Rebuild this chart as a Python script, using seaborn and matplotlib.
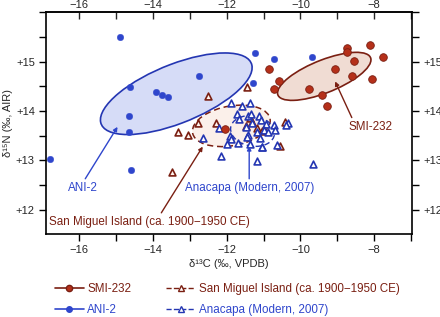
import numpy as np
import pandas as pd
import matplotlib
matplotlib.use('Agg')
import matplotlib.pyplot as plt
from matplotlib.patches import Ellipse
from matplotlib.lines import Line2D
from matplotlib.ticker import MultipleLocator, FuncFormatter
import seaborn as sns

# SMI-232 (archaeological, red circles)
smi_c = [-8.75, -8.74, -8.11, -7.77, -8.56, -9.06, -8.60, -8.05,
         -10.86, -10.59, -10.73, -9.77, -9.41, -9.29, -12.04]
smi_n = [15.28, 15.20, 15.34, 15.10, 15.01, 14.85, 14.72, 14.64,
         14.85, 14.60, 14.45, 14.45, 14.33, 14.10, 13.63]

# ANI-2 (archaeological, blue circles)
ani_c = [-14.89, -14.63, -13.91, -13.75, -13.59, -14.66, -14.66, -12.74,
         -16.79, -14.59, -11.23, -10.73, -11.28, -9.69]
ani_n = [15.51, 14.49, 14.39, 14.33, 14.28, 13.89, 13.58, 14.72,
         13.03, 12.81, 15.18, 15.05, 14.56, 15.09]

# San Miguel Island, ca. 1900-1950 CE (open red triangles)
sm_c = [-12.50, -11.44, -12.78, -13.33, -13.05, -12.29, -11.37, -11.49,
        -11.19, -10.55, -10.42, -13.47, -11.32, -11.05]
sm_n = [14.31, 14.49, 13.75, 13.57, 13.52, 13.75, 13.85, 13.70,
        13.65, 13.30, 13.77, 12.77, 13.77, 13.60]

# Anacapa, modern 2007 (open blue triangles)
an_c = [-11.88, -11.59, -11.38, -11.71, -11.66, -11.43, -11.35, -11.12,
        -11.07, -10.93, -10.73, -11.32, -11.47, -11.18, -10.99, -10.87,
        -10.69, -11.41, -11.09, -12.63, -11.91, -11.88, -11.68, -12.00,
        -11.37, -11.05, -12.15, -11.18, -10.63, -10.33, -10.40, -12.20,
        -9.67, -11.03, -11.46]
an_n = [14.16, 14.10, 14.16, 13.94, 13.83, 13.90, 13.94, 13.89,
        13.82, 13.74, 13.72, 13.75, 13.68, 13.58, 13.62, 13.57,
        13.62, 13.52, 13.45, 13.45, 13.50, 13.44, 13.35, 13.33,
        13.33, 13.28, 13.08, 12.98, 13.31, 13.75, 13.72, 13.66,
        12.93, 13.27, 13.47]

x_ticks = [-16, -14, -12, -10, -8]
y_ticks = [12, 13, 14, 15]

RED = '#B5301A'
RED_DARK = '#7A1F12'
BLUE = '#2F46CC'
BLUE_DARK = '#2436B2'


def std_ellipse(x, y, **kw):
    # small-sample corrected standard ellipse (SEAc)
    x = np.asarray(x); y = np.asarray(y)
    n = len(x)
    cov = np.cov(x, y)
    vals, vecs = np.linalg.eigh(cov)
    order = vals.argsort()[::-1]
    vals, vecs = vals[order], vecs[:, order]
    k = np.sqrt((n - 1) / (n - 2))
    w, h = 2 * k * np.sqrt(vals)
    ang = np.degrees(np.arctan2(vecs[1, 0], vecs[0, 0]))
    return Ellipse((x.mean(), y.mean()), w, h, angle=ang, **kw)


sns.set_style('ticks')
plt.rcParams['font.family'] = ['Liberation Sans', 'DejaVu Sans']
plt.rcParams['font.size'] = 8

fig = plt.figure(figsize=(4.4, 3.17), dpi=100)
ax = fig.add_axes([0.1045, 0.262, 0.8315, 0.699])

ax.add_patch(std_ellipse(ani_c, ani_n, facecolor='#D6DCF7', edgecolor=BLUE_DARK, lw=1.2, zorder=1))
ax.add_patch(std_ellipse(smi_c, smi_n, facecolor='#F0DCD3', edgecolor=RED_DARK, lw=1.2, zorder=1))
ax.add_patch(std_ellipse(sm_c, sm_n, facecolor='#FBF0EA', edgecolor=RED_DARK, lw=1.1, ls=(0, (4, 2.5)), zorder=1))
ax.add_patch(std_ellipse(an_c, an_n, facecolor='none', edgecolor=BLUE_DARK, lw=1.0, ls=(0, (4, 2.5)), zorder=2))

sns.scatterplot(x=sm_c, y=sm_n, marker='^', s=24, facecolor='#FFF4EE', edgecolor=RED_DARK, linewidth=1.2, ax=ax, zorder=3)
sns.scatterplot(x=an_c, y=an_n, marker='^', s=24, facecolor='white', edgecolor=BLUE_DARK, linewidth=1.2, ax=ax, zorder=3)
sns.scatterplot(x=ani_c, y=ani_n, marker='o', s=22, color=BLUE, edgecolor=BLUE, linewidth=0.3, ax=ax, zorder=4)
sns.scatterplot(x=smi_c, y=smi_n, marker='o', s=30, color=RED, edgecolor=RED_DARK, linewidth=0.6, ax=ax, zorder=4)

# annotations
fs = 8.4
arrow = dict(arrowstyle='-|>', mutation_scale=6, lw=1.0, shrinkA=0, shrinkB=0)
ax.annotate('SMI-232', xy=(-9.06, 14.60), xytext=(-8.09, 13.68), color=RED_DARK,
            ha='center', va='center', fontsize=fs,
            arrowprops=dict(arrow, color=RED_DARK, relpos=(0.1, 1.0)))
ax.annotate('ANI-2', xy=(-14.96, 13.68), xytext=(-15.89, 12.44), color=BLUE,
            ha='center', va='center', fontsize=fs,
            arrowprops=dict(arrow, color=BLUE, relpos=(0.5, 1.0)))
ax.annotate('San Miguel Island (ca. 1900\u22121950 CE)', xy=(-12.65, 13.28), xytext=(-14.10, 11.75),
            color=RED_DARK, ha='center', va='center', fontsize=fs,
            arrowprops=dict(arrow, color=RED_DARK, relpos=(0.55, 1.0)))
ax.annotate('Anacapa (Modern, 2007)', xy=(-11.39, 13.29), xytext=(-11.39, 12.44),
            color=BLUE, ha='center', va='center', fontsize=fs,
            arrowprops=dict(arrow, color=BLUE, relpos=(0.5, 1.0)))

ax.set_xlim(-16.9, -6.98)
ax.set_ylim(11.51, 16.0)
ax.set_xticks(x_ticks)
ax.set_yticks(y_ticks)
ax.xaxis.set_minor_locator(MultipleLocator(1))
ax.yaxis.set_minor_locator(MultipleLocator(0.5))
ax.yaxis.set_major_formatter(FuncFormatter(lambda v, p: f'+{v:.0f}'))
ax.tick_params(which='both', direction='out', length=5, width=1, color='black',
               right=True, labelright=True, top=False, labelsize=8, pad=3)
for s in ax.spines.values():
    s.set_linewidth(1.2)
    s.set_color('black')

# top axis: same ticks, pointing inward
top = ax.secondary_xaxis('top')
top.set_xticks(x_ticks)
top.xaxis.set_minor_locator(MultipleLocator(1))
top.tick_params(which='both', direction='in', length=5, width=1, pad=2, labelsize=8)
top.spines['top'].set_linewidth(1.2)

ax.set_xlabel('\u03b4\u00b9\u00b3C (\u2030, VPDB)', fontsize=8, labelpad=3)
ax.set_ylabel('\u03b4\u00b9\u2075N (\u2030, AIR)', fontsize=8, labelpad=2)

handles = [
    Line2D([], [], color=RED_DARK, lw=1.2, marker='o', markersize=4.5, markerfacecolor=RED, markeredgecolor=RED_DARK),
    Line2D([], [], color=BLUE, lw=1.2, marker='o', markersize=4, markerfacecolor=BLUE, markeredgecolor=BLUE),
    Line2D([], [], color=RED_DARK, lw=1.0, ls='--', marker='^', markersize=4, markerfacecolor='white', markeredgecolor=RED_DARK),
    Line2D([], [], color=BLUE_DARK, lw=1.0, ls='--', marker='^', markersize=4, markerfacecolor='white', markeredgecolor=BLUE_DARK),
]
labels = ['SMI-232', 'ANI-2', 'San Miguel Island (ca. 1900\u22121950 CE)', 'Anacapa (Modern, 2007)']
fig.legend(handles, labels, ncol=2, loc='center left', bbox_to_anchor=(0.1, 0.056),
           frameon=False, fontsize=fs, handlelength=2.5, columnspacing=3.0,
           handletextpad=0.3, labelspacing=0.75,
           labelcolor=[RED_DARK, BLUE, RED_DARK, BLUE])

fig.savefig('out.png', dpi=100)
